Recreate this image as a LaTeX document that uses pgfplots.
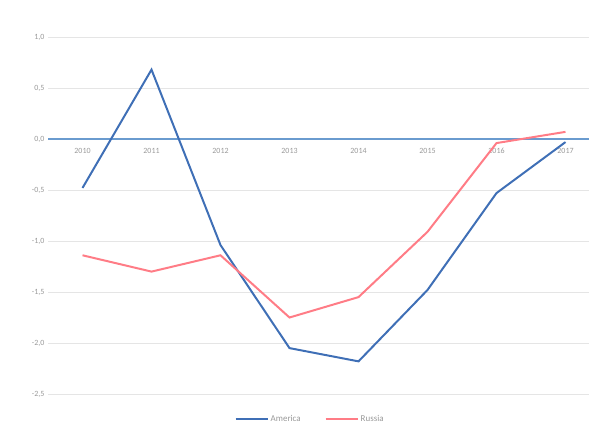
\documentclass[border=0pt]{standalone}
\usepackage{pgfplots}
\pgfplotsset{compat=1.18}
\usepackage{fontspec}
\setmainfont{Carlito}
\definecolor{ablue}{HTML}{3F6FB6}
\definecolor{rpink}{HTML}{FF7C86}
\definecolor{zline}{HTML}{6A9BCF}
\begin{document}
\begin{tikzpicture}
\begin{axis}[
  scale only axis,
  width=552bp, height=357bp,
  xmin=-0.5, xmax=7.5, ymin=-2.5, ymax=1.0,
  axis x line=middle, axis y line=left,
  x axis line style={draw=zline, line width=1.2pt, -},
  y axis line style={draw=none},
  xtick={0,...,7},
  xticklabels={2010,2011,2012,2013,2014,2015,2016,2017},
  ytick={-2.5,-2,...,1},
  major tick length=0pt,
  ymajorgrids, grid style={gray!20, line width=0.6pt},
  tick label style={font=\fontsize{8}{9}\selectfont, text=gray!80},
  xticklabel style={yshift=-6bp},
  /pgf/number format/.cd, use comma, fixed, fixed zerofill, precision=1, assume math mode=true,
  /pgfplots/.cd,
  legend style={at={(0.475,-0.05)}, anchor=north, draw=none, fill=none, legend columns=2,
    inner sep=1bp,
    font=\fontsize{9}{10}\selectfont\color{gray!80}, /tikz/every even column/.append style={column sep=22bp}},
  legend image code/.code={\draw[#1] (0bp,0bp) -- (32bp,0bp);},
  legend cell align=left,
  clip=false,
]
\addplot[ablue, line width=2pt] coordinates {(0,-0.48) (1,0.68) (2,-1.04) (3,-2.05) (4,-2.18) (5,-1.48) (6,-0.53) (7,-0.03)};
\addlegendentry{America}
\addplot[rpink, line width=2pt] coordinates {(0,-1.14) (1,-1.30) (2,-1.14) (3,-1.75) (4,-1.55) (5,-0.91) (6,-0.04) (7,0.07)};
\addlegendentry{Russia}
\end{axis}
\pgfresetboundingbox
\path (current axis.south west) ++(-48bp,-29bp) rectangle ([xshift=-11bp,yshift=37bp]current axis.north east);
\end{tikzpicture}
\end{document}
